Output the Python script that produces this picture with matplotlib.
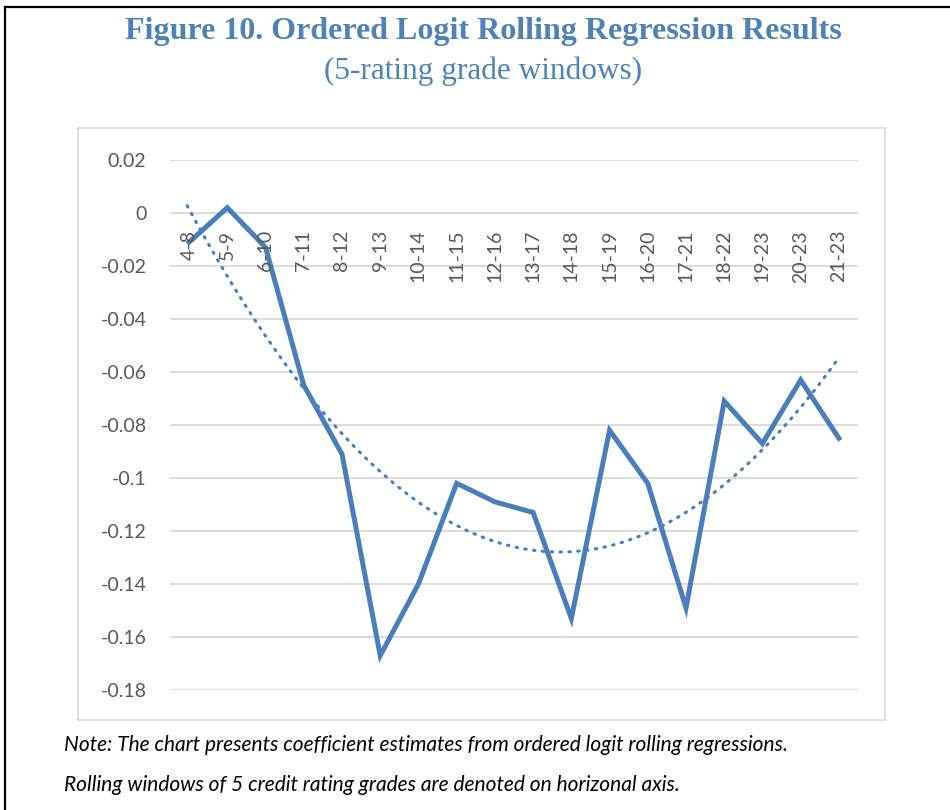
import numpy as np
import matplotlib
matplotlib.use('Agg')
import matplotlib.pyplot as plt
from matplotlib.lines import Line2D
from matplotlib.patches import Rectangle

windows = ['4-8', '5-9', '6-10', '7-11', '8-12', '9-13', '10-14', '11-15', '12-16',
           '13-17', '14-18', '15-19', '16-20', '17-21', '18-22', '19-23', '20-23', '21-23']
coef = [-0.011, 0.002, -0.013, -0.065, -0.091, -0.167, -0.140, -0.102, -0.109,
        -0.113, -0.153, -0.082, -0.102, -0.149, -0.071, -0.087, -0.063, -0.085]
yticks = [0.02, 0, -0.02, -0.04, -0.06, -0.08, -0.1, -0.12, -0.14, -0.16, -0.18]
ytick_labels = ['0.02', '0', '-0.02', '-0.04', '-0.06', '-0.08', '-0.1', '-0.12',
                '-0.14', '-0.16', '-0.18']

W, H = 950, 810
blue = '#4A7EBB'
title_blue = '#4F81B4'
grid = '#D9D9D9'
txt = '#595959'
sans = ['Lato', 'DejaVu Sans']

fig = plt.figure(figsize=(W / 100, H / 100), dpi=100)

# outer black frame (cut off at right and bottom)
fig.add_artist(Line2D([5 / W, 5 / W], [1 - 7 / H, 0], transform=fig.transFigure, color='black', lw=1.6))
fig.add_artist(Line2D([5 / W, 1], [1 - 7 / H, 1 - 7 / H], transform=fig.transFigure, color='black', lw=1.6))

# chart area box
fig.add_artist(Rectangle((78 / W, 1 - 720 / H), (885 - 78) / W, (720 - 128) / H,
                         transform=fig.transFigure, fill=False, ec=grid, lw=1.2))

fig.text(483 / W, 1 - 31 / H, 'Figure 10. Ordered Logit Rolling Regression Results',
         family='Liberation Serif', weight='bold', size=23, color=title_blue,
         ha='center', va='center')
fig.text(483 / W, 1 - 71 / H, '(5-rating grade windows)',
         family='Liberation Serif', size=22.5, color=title_blue, ha='center', va='center')

ax = fig.add_axes([170 / W, 1 - 690 / H, (858 - 170) / W, (690 - 160) / H])
x = np.arange(len(windows))

# 2nd order polynomial trendline, as in Excel
p = np.polyfit(x, coef, 2)
xt = np.linspace(-0.05, len(windows) - 1, 200)
ax.plot(xt, np.polyval(p, xt), color=blue, lw=2.2, linestyle=(0, (0.5, 2.4)),
        dash_capstyle='round')
ax.plot(x, coef, color=blue, lw=3.6, solid_joinstyle='miter')

ax.set_xlim(-0.5, len(windows) - 0.5)
ax.set_ylim(-0.18, 0.02)
ax.set_yticks(yticks)
ax.set_yticklabels(ytick_labels, family=sans, size=14, color=txt)
ax.tick_params(axis='y', length=0, pad=17)
ax.set_xticks([])
ax.yaxis.grid(True, color=grid, lw=1.3)
ax.set_axisbelow(True)
for s in ax.spines.values():
    s.set_visible(False)

for i, lab in enumerate(windows):
    ax.text(i, -0.0064, lab, rotation=90, ha='center', va='top',
            family=sans, size=14, color=txt)

fig.text(64 / W, 1 - 745 / H,
         'Note: The chart presents coefficient estimates from ordered logit rolling regressions.',
         family=sans, style='italic', size=15, color='black', va='center')
fig.text(64 / W, 1 - 785 / H,
         'Rolling windows of 5 credit rating grades are denoted on horizonal axis.',
         family=sans, style='italic', size=15, color='black', va='center')

fig.savefig('out.png', dpi=100)
